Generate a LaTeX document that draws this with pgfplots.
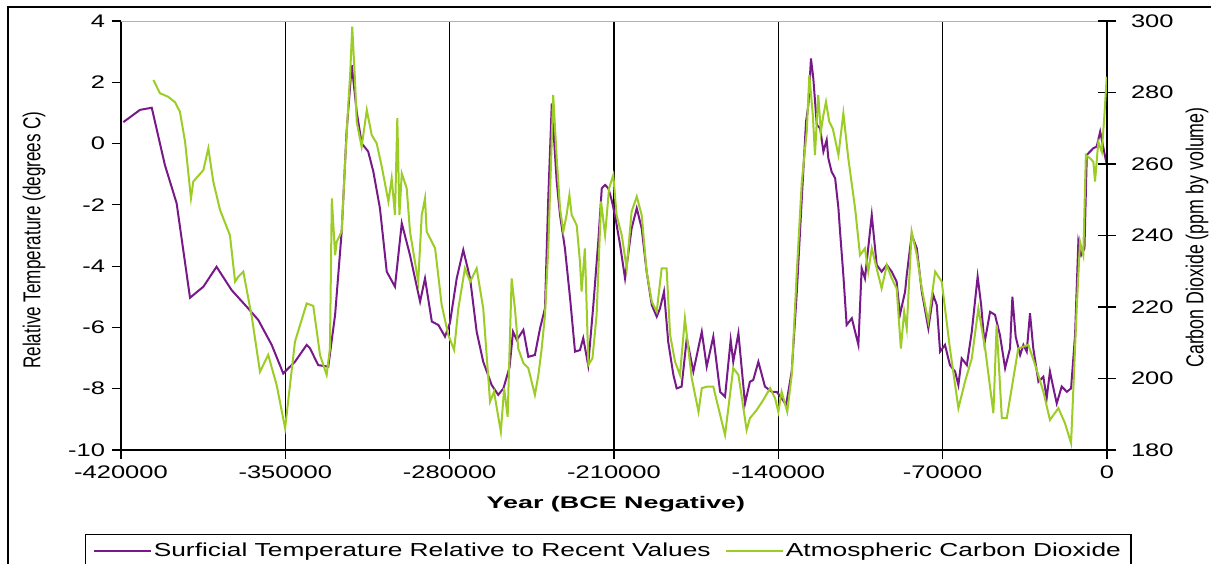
\documentclass[border=0pt]{standalone}
\usepackage{pgfplots}
\pgfplotsset{compat=1.18}
\usepackage{fontspec}
\setmainfont[FakeStretch=1.4]{Liberation Sans}
\newfontfamily\rotfontL[FakeStretch=0.70]{Liberation Sans}
\newfontfamily\rotfontR[FakeStretch=0.73]{Liberation Sans}
\newfontfamily\xlabfont[FakeStretch=1.6]{Liberation Sans}

\definecolor{tempc}{RGB}{120,25,138}
\definecolor{co2c}{RGB}{156,204,38}

\pgfplotsset{
  common/.style={
    scale only axis,
    width=493pt, height=214.5pt,
    xmin=-420000, xmax=0,
    /pgf/number format/assume math mode=true,
    /pgf/number format/.cd, fixed, 1000 sep={}, /pgfplots/.cd,
    scaled x ticks=false,
    ticklabel style={font=\fontsize{9.1}{11}\selectfont},
    axis line style={black, line width=0.7pt},
    every tick/.style={black, line width=0.6pt},
  },
}

\begin{document}
\begin{tikzpicture}
  \begin{axis}[
      common,
      ymin=-10, ymax=4,
      ytick={-10,-8,-6,-4,-2,0,2,4},
      xtick={-420000,-350000,-280000,-210000,-140000,-70000,0},
      axis x line*=bottom,
      axis y line*=left,
      tick align=outside,
      major tick length=4.5pt,
      xmajorgrids,
      major grid style={black, line width=0.7pt},
      xlabel={Year (BCE Negative)},
      ylabel={Relative Temperature (degrees C)},
      every axis x label/.style={at={(axis description cs:0.502,-0.136)}, anchor=base,
        font=\xlabfont\bfseries\fontsize{8.4}{10}\selectfont},
      every axis y label/.style={at={(axis description cs:-0.0882,0.4895)}, rotate=90, anchor=center,
        font=\rotfontL\fontsize{12.2}{14}\selectfont},
    ]
    \draw[black!30, line width=0.6pt] (rel axis cs:0,1) -- (rel axis cs:1,1);
    % Surficial temperature relative to recent values
    \addplot[tempc, line width=1pt] coordinates {
      (-419000,0.70) (-411900,1.10) (-406900,1.17) (-401300,-0.70) (-396300,-1.95)
      (-390600,-5.03) (-384900,-4.67) (-379300,-4.02) (-372900,-4.78) (-365800,-5.38)
      (-361500,-5.76) (-355800,-6.57) (-350900,-7.50) (-345900,-7.12) (-340900,-6.57)
      (-339500,-6.68) (-336000,-7.23) (-331700,-7.28) (-328800,-5.59) (-326000,-2.88)
      (-323900,0.39) (-321700,2.56) (-319600,1.04) (-317500,0.01) (-314700,-0.26)
      (-312500,-0.92) (-309700,-2.11) (-306800,-4.18) (-303300,-4.67) (-300400,-2.60)
      (-296900,-3.64) (-292600,-5.16) (-290500,-4.40) (-287600,-5.81) (-284800,-5.92)
      (-282000,-6.30) (-279900,-5.86) (-277000,-4.40) (-274200,-3.47) (-271300,-4.40)
      (-268500,-6.14) (-265700,-7.12) (-262100,-7.88) (-259300,-8.20) (-257100,-7.99)
      (-254500,-7.30) (-253000,-6.14) (-251400,-6.41) (-248600,-6.08) (-246500,-6.96)
      (-243700,-6.90) (-241500,-6.03) (-239400,-5.38) (-238000,-1.79) (-236500,1.31)
      (-234400,-1.24) (-233000,-2.33) (-230900,-3.42) (-228700,-5.05) (-226600,-6.79)
      (-224500,-6.74) (-223100,-6.35) (-221000,-7.23) (-218800,-5.27) (-216700,-3.20)
      (-215200,-1.46) (-213800,-1.35) (-212400,-1.46) (-211000,-1.84) (-209600,-2.33)
      (-207400,-3.31) (-205300,-4.40) (-202500,-2.77) (-200300,-2.11) (-198200,-2.77)
      (-196100,-4.18) (-193900,-5.27) (-191800,-5.65) (-190400,-5.38) (-188700,-4.83)
      (-186900,-6.47) (-184700,-7.55) (-183300,-7.99) (-181200,-7.93) (-179000,-6.35)
      (-176200,-7.44) (-172600,-6.14) (-170500,-7.28) (-167700,-6.30) (-164800,-8.10)
      (-162700,-8.26) (-160300,-6.41) (-159200,-7.12) (-157000,-6.19) (-154200,-8.48)
      (-152100,-7.77) (-150700,-7.72) (-148500,-7.12) (-145700,-7.93) (-142800,-8.10)
      (-140700,-8.10) (-138600,-8.31) (-136700,-8.53) (-134300,-7.44) (-132200,-4.94)
      (-130000,-1.79) (-128200,0.71) (-127200,1.26) (-126100,2.78) (-125100,2.13)
      (-123600,0.61) (-122200,0.50) (-120800,-0.26) (-119400,0.12) (-118700,-0.48)
      (-117300,-0.92) (-115800,-1.13) (-114400,-2.11) (-113700,-2.88) (-112300,-4.29)
      (-110900,-5.92) (-108700,-5.70) (-105900,-6.57) (-104500,-4.07) (-103100,-4.40)
      (-100200,-2.33) (-98100,-3.96) (-96000,-4.18) (-93800,-3.96) (-91700,-4.18)
      (-89600,-4.51) (-88200,-5.59) (-86000,-4.83) (-85300,-4.29) (-83200,-2.98)
      (-81000,-3.42) (-78900,-4.83) (-76100,-6.03) (-74000,-4.94) (-72500,-5.27)
      (-71100,-6.79) (-69000,-6.57) (-66900,-7.23) (-64700,-7.44) (-63300,-7.88)
      (-61900,-7.01) (-59700,-7.23) (-57600,-6.14) (-55100,-4.34) (-53600,-5.27)
      (-52200,-6.52) (-49800,-5.49) (-47700,-5.59) (-45600,-6.25) (-43400,-7.33)
      (-41300,-6.68) (-40300,-5.00) (-38900,-6.30) (-37000,-6.90) (-35600,-6.57)
      (-34200,-6.79) (-32800,-5.54) (-31400,-6.68) (-29200,-7.77) (-27100,-7.61)
      (-25700,-8.31) (-24300,-7.44) (-22800,-7.99) (-21400,-8.48) (-19300,-7.93)
      (-17100,-8.10) (-15300,-7.99) (-13600,-6.25) (-12200,-3.20) (-11000,-3.64)
      (-9600,-3.42) (-8600,-0.37) (-7200,-0.26) (-5800,-0.15) (-4400,-0.10)
      (-2900,0.39) (-1500,-0.15) (-100,-0.70)
    };
  \end{axis}

  \begin{axis}[
      common,
      ymin=180, ymax=300,
      ytick={180,200,220,240,260,280,300},
      axis x line=none,
      axis y line*=right,
      tick align=center,
      major tick length=9pt,
      yticklabel style={xshift=4pt},
      ylabel={Carbon Dioxide (ppm by volume)},
      every axis y label/.style={at={(axis description cs:1.0913,0.4953)}, rotate=90, anchor=center,
        font=\rotfontR\fontsize{12.2}{14}\selectfont},
      legend columns=2,
      legend cell align=left,
      legend image code/.code={\draw[#1, line width=0.6pt] (0pt,0pt) -- (28.5pt,0pt);},
      legend style={at={(axis description cs:-0.0365,-0.1958)}, anchor=north west,
        draw=black, line width=0.6pt, inner xsep=4pt, inner ysep=3pt,
        font=\fontsize{9.4}{11}\selectfont, nodes={inner sep=1pt},
        /tikz/every even column/.append style={column sep=6.5pt}},
    ]
    \addlegendimage{tempc}
    \addlegendentry{Surficial Temperature Relative to Recent Values}
    % Atmospheric carbon dioxide
    \addplot[co2c, line width=1pt] coordinates {
      (-406200,283.5) (-403400,279.8) (-399900,278.8) (-397000,277.3) (-394900,274.6)
      (-392700,266.2) (-390200,250.4) (-389200,255.1) (-384900,258.3) (-382800,264.4)
      (-380700,255.1) (-377800,247.1) (-373600,240.1) (-371400,227.1) (-370000,228.5)
      (-367900,229.9) (-364300,217.3) (-360800,201.9) (-357300,206.6) (-353700,198.2)
      (-350100,186.1) (-345900,210.3) (-340900,221.0) (-338100,220.3) (-335200,206.5)
      (-332400,201.0) (-331000,208.4) (-330200,250.4) (-328800,234.5) (-328100,238.3)
      (-326000,241.1) (-324600,259.7) (-323200,276.5) (-322400,284.9) (-321500,298.4)
      (-320300,283.0) (-319600,271.8) (-317500,264.8) (-315300,275.1) (-313200,268.1)
      (-311100,265.8) (-308900,259.2) (-306100,249.5) (-304700,256.0) (-303300,245.7)
      (-302300,272.8) (-301400,245.7) (-300400,257.4) (-298300,253.2) (-296900,241.1)
      (-293400,227.1) (-291900,245.7) (-290500,250.4) (-289800,241.1) (-286200,236.4)
      (-283400,220.6) (-280600,212.2) (-278100,208.0) (-276300,219.6) (-273500,230.8)
      (-271300,227.1) (-268500,230.8) (-265700,219.6) (-262800,193.5) (-261100,196.3)
      (-258200,185.1) (-256800,197.3) (-255300,189.3) (-253600,228.0) (-252200,219.6)
      (-250800,208.4) (-248600,204.3) (-246500,202.9) (-243700,195.4) (-242200,201.0)
      (-240800,208.4) (-239400,217.8) (-238000,236.4) (-235900,279.3) (-234400,261.6)
      (-233000,247.6) (-231600,241.1) (-230200,245.7) (-229000,251.3) (-228000,245.7)
      (-225900,242.9) (-224500,232.7) (-223800,224.3) (-222400,236.4) (-220900,203.8)
      (-219200,205.6) (-217400,217.8) (-215500,249.5) (-213800,240.1) (-212100,253.2)
      (-210300,256.9) (-208900,245.7) (-206700,240.1) (-204600,230.8) (-202500,246.7)
      (-200300,250.9) (-198200,245.7) (-196100,229.9) (-193900,221.5) (-191800,218.7)
      (-189700,230.8) (-187600,230.8) (-186100,212.2) (-184000,204.7) (-181900,201.0)
      (-179800,216.8) (-176900,200.1) (-174000,190.7) (-172600,197.3) (-170500,197.7)
      (-167700,197.7) (-162700,184.2) (-159200,202.9) (-157000,201.0) (-153500,185.6)
      (-152100,188.9) (-149200,191.2) (-146400,194.0) (-143500,197.3) (-141400,194.5)
      (-140000,190.7) (-138600,196.3) (-136200,190.7) (-134300,201.0) (-132200,229.0)
      (-130000,255.1) (-127900,269.0) (-126800,284.9) (-125300,273.7) (-124400,262.5)
      (-123000,279.3) (-121900,269.0) (-120800,273.7) (-119700,277.4) (-118300,271.8)
      (-116800,269.9) (-114400,262.5) (-112300,274.2) (-110200,261.6) (-107300,247.6)
      (-105200,234.5) (-103100,236.4) (-101700,229.9) (-100200,236.4) (-98100,230.8)
      (-96000,225.2) (-93800,231.7) (-91700,228.0) (-89600,225.2) (-87800,208.4)
      (-86400,218.7) (-85300,214.0) (-83200,241.1) (-81000,234.5) (-78900,225.2)
      (-76100,215.9) (-73200,229.9) (-70400,227.1) (-66900,208.4) (-63300,191.7)
      (-60500,199.1) (-57600,205.6) (-54800,219.6) (-51900,208.4) (-48400,190.3)
      (-47000,215.0) (-44800,188.9) (-42700,188.9) (-37800,208.4) (-33500,209.4)
      (-30600,203.8) (-27100,196.3) (-24300,188.4) (-20700,191.7) (-17900,187.5)
      (-15300,181.9) (-12900,219.6) (-11500,238.3) (-10100,234.5) (-9000,262.5)
      (-7200,261.6) (-5800,260.6) (-5100,255.1) (-3700,266.2) (-2200,263.4)
      (-1100,273.7) (-100,284.4)
    };
    \addlegendentry{Atmospheric Carbon Dioxide}
  \end{axis}

  \draw[black, line width=0.6pt] (-56.5pt,-70pt) rectangle (560pt,221.5pt);
  \pgfresetboundingbox
  \path[use as bounding box] (-60.5pt,-56.5pt) rectangle (545pt,225pt);
\end{tikzpicture}
\end{document}
